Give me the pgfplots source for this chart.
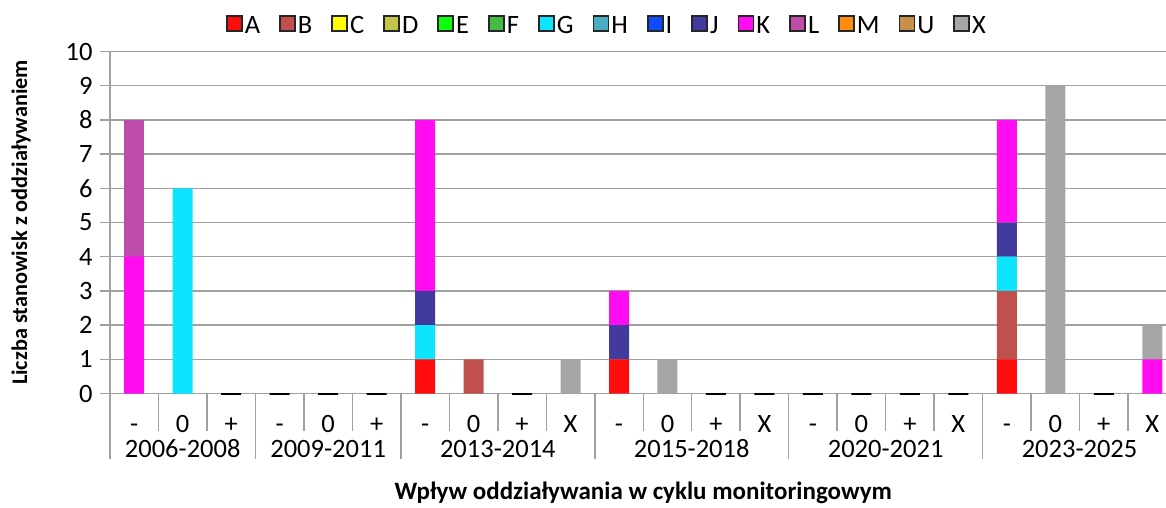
\documentclass[border=0pt]{standalone}
\usepackage{pgfplots}
\usepackage{pgfplotstable}
\pgfplotsset{compat=1.18}
\usepackage{fontspec}
\setmainfont{Carlito}
\definecolor{cA}{HTML}{FF0D0D}
\definecolor{cB}{HTML}{C0504D}
\definecolor{cC}{HTML}{FFFF00}
\definecolor{cD}{HTML}{C4C44A}
\definecolor{cE}{HTML}{0DFF0D}
\definecolor{cF}{HTML}{44BB44}
\definecolor{cG}{HTML}{0DE5FF}
\definecolor{cH}{HTML}{4BACC6}
\definecolor{cI}{HTML}{0D4BFF}
\definecolor{cJ}{HTML}{433A9E}
\definecolor{cK}{HTML}{FF0DF0}
\definecolor{cL}{HTML}{BF4BAA}
\definecolor{cM}{HTML}{FF8C0D}
\definecolor{cU}{HTML}{C8914B}
\definecolor{cX}{HTML}{A6A6A6}
\definecolor{gridc}{HTML}{A0A0A0}
\pgfplotstableread{
x A B C D E F G H I J K L M U X
0 0 0 0 0 0 0 0 0 0 0 4 4 0 0 0
1 0 0 0 0 0 0 6 0 0 0 0 0 0 0 0
2 0 0 0 0 0 0 0 0 0 0 0 0 0 0 0
3 0 0 0 0 0 0 0 0 0 0 0 0 0 0 0
4 0 0 0 0 0 0 0 0 0 0 0 0 0 0 0
5 0 0 0 0 0 0 0 0 0 0 0 0 0 0 0
6 1 0 0 0 0 0 1 0 0 1 5 0 0 0 0
7 0 1 0 0 0 0 0 0 0 0 0 0 0 0 0
8 0 0 0 0 0 0 0 0 0 0 0 0 0 0 0
9 0 0 0 0 0 0 0 0 0 0 0 0 0 0 1
10 1 0 0 0 0 0 0 0 0 1 1 0 0 0 0
11 0 0 0 0 0 0 0 0 0 0 0 0 0 0 1
12 0 0 0 0 0 0 0 0 0 0 0 0 0 0 0
13 0 0 0 0 0 0 0 0 0 0 0 0 0 0 0
14 0 0 0 0 0 0 0 0 0 0 0 0 0 0 0
15 0 0 0 0 0 0 0 0 0 0 0 0 0 0 0
16 0 0 0 0 0 0 0 0 0 0 0 0 0 0 0
17 0 0 0 0 0 0 0 0 0 0 0 0 0 0 0
18 1 2 0 0 0 0 1 0 0 1 3 0 0 0 0
19 0 0 0 0 0 0 0 0 0 0 0 0 0 0 9
20 0 0 0 0 0 0 0 0 0 0 0 0 0 0 0
21 0 0 0 0 0 0 0 0 0 0 1 0 0 0 1
}\data
\pgfplotstableread{
x Z
2 0
3 0
4 0
5 0
8 0
12 0
13 0
14 0
15 0
16 0
17 0
20 0
}\zeros
\pgfplotsset{
  bs/.style={fill=#1, draw=none,
    legend image code/.code={
      \node[draw=black!85, fill=#1, line width=1.8pt, minimum width=15pt, minimum height=15pt,
        inner sep=0pt, outer sep=0pt, anchor=south west] at (0.9pt,-4.6pt) {};}},
}
\newcommand{\tf}{\fontsize{26.5}{30}\selectfont}
\begin{document}
\begin{tikzpicture}
\begin{axis}[
  name=ax,
  width=1066.5pt, height=342pt, scale only axis,
  ybar stacked, bar width=20pt,
  xmin=-0.5, xmax=21.5, ymin=0, ymax=10,
  clip=false,
  axis x line*=bottom, axis y line*=left,
  axis line style={draw=gridc, line width=1.5pt},
  ytick={0,...,10}, ymajorgrids,
  grid style={draw=gridc, line width=1.5pt},
  ytick align=outside, major tick length=10pt,
  ytick style={draw=gridc, line width=1.5pt},
  xtick={0,...,21}, xtick style={draw=none},
  xticklabels={-,0,+,-,0,+,-,0,+,X,-,0,+,X,-,0,+,X,-,0,+,X},
  xticklabel style={anchor=base, yshift=-38.5pt},
  yticklabel style={xshift=-4pt},
  ticklabel style={font=\tf},
  /pgf/number format/assume math mode=true,
  xlabel={Wpływ oddziaływania w cyklu monitoringowym},
  ylabel={Liczba stanowisk z oddziaływaniem},
  xlabel style={at={(axis description cs:0.5,-0.3085)}, anchor=base, font=\bfseries\fontsize{25}{28}\selectfont},
  ylabel style={at={(axis description cs:-0.0778,0.5)}, anchor=base, font=\bfseries\fontsize{22.3}{26}\selectfont},
  legend columns=15,
  legend style={draw=none, fill=none, at={(axis description cs:0.466,1)}, anchor=center, yshift=25.5pt,
    font=\tf,
    /tikz/every even column/.append style={column sep=17pt}},
]
\addplot[bs=cA] table[x=x,y=A]{\data}; \addlegendentry{A}
\addplot[bs=cB] table[x=x,y=B]{\data}; \addlegendentry{B}
\addplot[bs=cC] table[x=x,y=C]{\data}; \addlegendentry{C}
\addplot[bs=cD] table[x=x,y=D]{\data}; \addlegendentry{D}
\addplot[bs=cE] table[x=x,y=E]{\data}; \addlegendentry{E}
\addplot[bs=cF] table[x=x,y=F]{\data}; \addlegendentry{F}
\addplot[bs=cG] table[x=x,y=G]{\data}; \addlegendentry{G}
\addplot[bs=cH] table[x=x,y=H]{\data}; \addlegendentry{H}
\addplot[bs=cI] table[x=x,y=I]{\data}; \addlegendentry{I}
\addplot[bs=cJ] table[x=x,y=J]{\data}; \addlegendentry{J}
\addplot[bs=cK] table[x=x,y=K]{\data}; \addlegendentry{K}
\addplot[bs=cL] table[x=x,y=L]{\data}; \addlegendentry{L}
\addplot[bs=cM] table[x=x,y=M]{\data}; \addlegendentry{M}
\addplot[bs=cU] table[x=x,y=U]{\data}; \addlegendentry{U}
\addplot[bs=cX] table[x=x,y=X]{\data}; \addlegendentry{X}
\pgfplotsinvokeforeach{0.5,1.5,3.5,4.5,6.5,7.5,8.5,10.5,11.5,12.5,14.5,15.5,16.5,18.5,19.5,20.5}{
  \draw[gridc, line width=1.5pt] (axis cs:#1,0) -- ([yshift=-37pt]axis cs:#1,0);}
\pgfplotsinvokeforeach{-0.5,2.5,5.5,9.5,13.5,17.5}{
  \draw[gridc, line width=1.5pt] (axis cs:#1,0) -- ([yshift=-65pt]axis cs:#1,0);}
\node[anchor=base, font=\tf] at ([yshift=-63.5pt]axis cs:1,0) {2006-2008};
\node[anchor=base, font=\tf] at ([yshift=-63.5pt]axis cs:4,0) {2009-2011};
\node[anchor=base, font=\tf] at ([yshift=-63.5pt]axis cs:7.5,0) {2013-2014};
\node[anchor=base, font=\tf] at ([yshift=-63.5pt]axis cs:11.5,0) {2015-2018};
\node[anchor=base, font=\tf] at ([yshift=-63.5pt]axis cs:15.5,0) {2020-2021};
\node[anchor=base, font=\tf] at ([yshift=-63.5pt]axis cs:19.5,0) {2023-2025};
\end{axis}
\begin{axis}[
  at={(ax.south west)}, anchor=south west,
  width=1066.5pt, height=342pt, scale only axis,
  hide axis, clip=false,
  xmin=-0.5, xmax=21.5, ymin=0, ymax=10,
]
\addplot[ybar, bar width=20pt, draw=black, line width=2pt, fill=none] table[x=x,y=Z]{\zeros};
\end{axis}
\pgfresetboundingbox
\path ([xshift=-110pt,yshift=-113.5pt]ax.south west) rectangle ([xshift=-10.5pt,yshift=51.5pt]ax.north east);
\end{tikzpicture}
\end{document}
